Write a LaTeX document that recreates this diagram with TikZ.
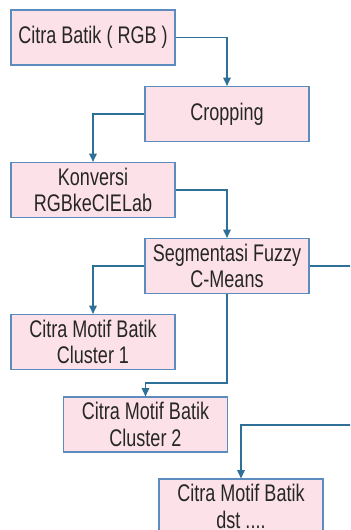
\documentclass[tikz,border=0pt]{standalone}
\usepackage{fontspec}
\setmainfont[FakeStretch=0.75]{Liberation Sans}
\usepackage{tikz}
\usetikzlibrary{positioning,calc,arrows.meta}
\usepackage{xcolor}
\definecolor{boxfill}{RGB}{252,226,232}
\definecolor{boxline}{RGB}{92,140,190}
\definecolor{flowline}{RGB}{46,112,152}

\begin{document}
\begin{tikzpicture}[x=0.03cm,y=-0.03cm,
    procbox/.style={rectangle,draw=boxline,fill=boxfill,line width=1.1pt,
        minimum width=4.92cm,minimum height=1.65cm,align=center,inner sep=1pt,
        font=\fontsize{20.5}{22.5}\selectfont,text=black!85},
    flow/.style={draw=flowline,line width=1.1pt},
    arr/.style={flow,-{Triangle[length=7pt,width=6.5pt]}}]
\clip (0,0) rectangle (350,530);
\fill[white] (0,0) rectangle (350,530);
% boxes
\node[procbox] (citra) at (93,37.5) {Citra Batik ( RGB )};
\node[procbox] (crop) at (227,114) {Cropping};
\node[procbox] (konv) at (93,190) {Konversi\\RGBkeCIELab};
\node[procbox] (seg) at (227,266) {Segmentasi Fuzzy\\C-Means};
\node[procbox] (cl1) at (93,342) {Citra Motif Batik\\Cluster 1};
\node[procbox] (cl2) at (145.5,424.5) {Citra Motif Batik\\Cluster 2};
\node[procbox] (dst) at (241,506.5) {Citra Motif Batik\\dst ....};
% junction points
\coordinate (j2) at (227,383);
\coordinate (e1) at (352,266);
\coordinate (e2) at (352,425);
% connectors
\draw[arr] (citra.east) -| (crop.north);
\draw[arr] (crop.west) -| (konv.north);
\draw[arr] (konv.east) -| (seg.north);
\draw[arr] (seg.west) -| (cl1.north);
\draw[arr] (seg.south) -- (j2) -| (cl2.north);
\draw[flow] (seg.east) -- (e1);
\draw[arr] (e2) -| (dst.north);
\end{tikzpicture}
\end{document}
